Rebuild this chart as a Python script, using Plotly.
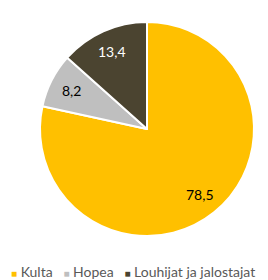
import math
import plotly.graph_objects as go

labels = ["Kulta", "Hopea", "Louhijat ja jalostajat"]
values = [78.5, 8.2, 13.4]
colors = ["#FFC000", "#BFBFBF", "#4B4430"]
text_colors = ["#000000", "#000000", "#FFFFFF"]

FONT = "Lato, Open Sans, Liberation Sans, sans-serif"
OFF = 8  # default page body margin
W, H = 268 - OFF, 280 - OFF
CX, CY, R = 147 - OFF, 129 - OFF, 107
LABEL_FRAC = 0.79

fig = go.Figure()
fig.add_trace(go.Pie(
    labels=labels, values=values, sort=False, direction="clockwise", rotation=0,
    marker=dict(colors=colors, line=dict(color="white", width=2)),
    textinfo="none", showlegend=False, hoverinfo="skip",
    domain=dict(x=[(CX - R) / W, (CX + R) / W], y=[1 - (CY + R) / H, 1 - (CY - R) / H]),
))

total = sum(values)
cum = 0.0
for v, tc in zip(values, text_colors):
    mid = (cum + v / 2) / total * 2 * math.pi
    cum += v
    px = CX + LABEL_FRAC * R * math.sin(mid)
    py = CY - LABEL_FRAC * R * math.cos(mid)
    fig.add_annotation(x=px / W, y=1 - py / H, xref="paper", yref="paper",
                       xanchor="center", yanchor="middle",
                       text=f"{v:.1f}".replace(".", ","), showarrow=False,
                       font=dict(size=14, color=tc, family=FONT))

parts = []
for lab, col in zip(labels, colors):
    parts.append(f"<span style='color:{col};font-size:10px'>■</span> {lab}")
fig.add_annotation(x=(9 - OFF) / W, y=1 - (271 - OFF) / H, xref="paper", yref="paper",
                   xanchor="left", yanchor="middle", showarrow=False,
                   text="   ".join(parts),
                   font=dict(size=14, color="#595959", family=FONT))

fig.update_layout(
    width=W, height=H, margin=dict(l=0, r=0, t=0, b=0),
    paper_bgcolor="white", plot_bgcolor="white",
)
fig.write_html("out.html")
